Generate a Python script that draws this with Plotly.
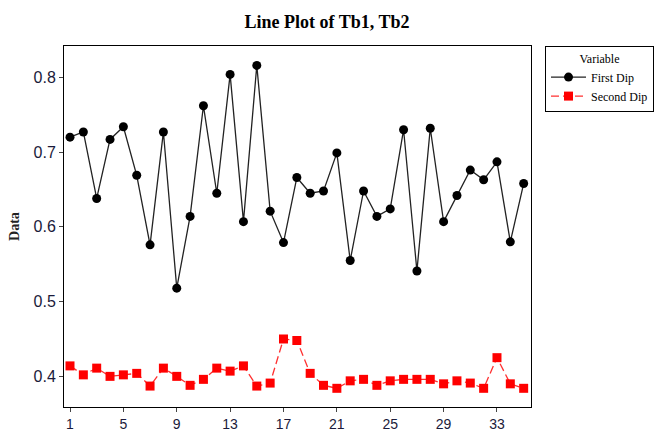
import plotly.graph_objects as go

index = list(range(1, 36))
first_dip = [0.720, 0.727, 0.638, 0.717, 0.734, 0.669, 0.576, 0.727, 0.518, 0.614,
             0.762, 0.645, 0.804, 0.607, 0.816, 0.621, 0.579, 0.666, 0.645, 0.648,
             0.699, 0.555, 0.648, 0.614, 0.624, 0.730, 0.541, 0.732, 0.607, 0.642,
             0.676, 0.663, 0.687, 0.580, 0.658]
second_dip = [0.414, 0.402, 0.411, 0.400, 0.402, 0.404, 0.387, 0.411, 0.400, 0.388,
              0.396, 0.411, 0.407, 0.414, 0.387, 0.391, 0.450, 0.448, 0.404, 0.388,
              0.384, 0.394, 0.396, 0.388, 0.394, 0.396, 0.396, 0.396, 0.390, 0.394,
              0.391, 0.384, 0.425, 0.390, 0.384]
x_ticks = [1, 5, 9, 13, 17, 21, 25, 29, 33]
y_ticks = [0.4, 0.5, 0.6, 0.7, 0.8]

fig = go.Figure()
fig.add_trace(go.Scatter(x=index, y=first_dip, mode="lines+markers", name="First Dip",
                         line=dict(color="#222222", width=1.3),
                         marker=dict(symbol="circle", size=9, color="black")))
fig.add_trace(go.Scatter(x=index, y=second_dip, mode="lines+markers", name="Second Dip",
                         line=dict(color="#ff3030", width=1.3, dash="8px,4px"),
                         marker=dict(symbol="square", size=9, color="#ff0000")))

axis_common = dict(showgrid=False, zeroline=False, showline=True, linecolor="black",
                   linewidth=1, mirror=True, ticks="outside", ticklen=4, tickcolor="#444",
                   automargin=False)
fig.update_xaxes(range=[0.55, 35.55], tickvals=x_ticks,
                 tickfont=dict(family="Liberation Sans", size=14, color="#1a1a3a"),
                 **axis_common)
fig.update_yaxes(range=[0.359, 0.842], tickvals=y_ticks, tickformat=".1f",
                 tickfont=dict(family="Liberation Sans", size=16, color="#1a1a3a"),
                 title=dict(text="<b>Data</b>", font=dict(family="Liberation Serif", size=14, color="#222"), standoff=10),
                 **axis_common)

fig.update_layout(
    template="none",
    width=654, height=431,
    margin=dict(l=64, r=123, t=46, b=24, autoexpand=False),
    paper_bgcolor="white", plot_bgcolor="white",
    title=dict(text="<b>Line Plot of Tb1, Tb2</b>", x=0.5, xanchor="center",
               y=1 - 22 / 431, yanchor="middle",
               font=dict(family="Liberation Serif", size=18, color="black")),
    legend=dict(x=1.03, y=1.0, xanchor="left", yanchor="top",
                bordercolor="black", borderwidth=1, bgcolor="white",
                font=dict(family="Liberation Serif", size=12, color="black"),
                title=dict(text="Variable", side="top center",
                           font=dict(family="Liberation Serif", size=12, color="black")),
                itemwidth=35, tracegroupgap=0),
    showlegend=True,
)

fig.write_html("out.html", config={"displayModeBar": False},
               post_script="document.body.style.margin='0';")
